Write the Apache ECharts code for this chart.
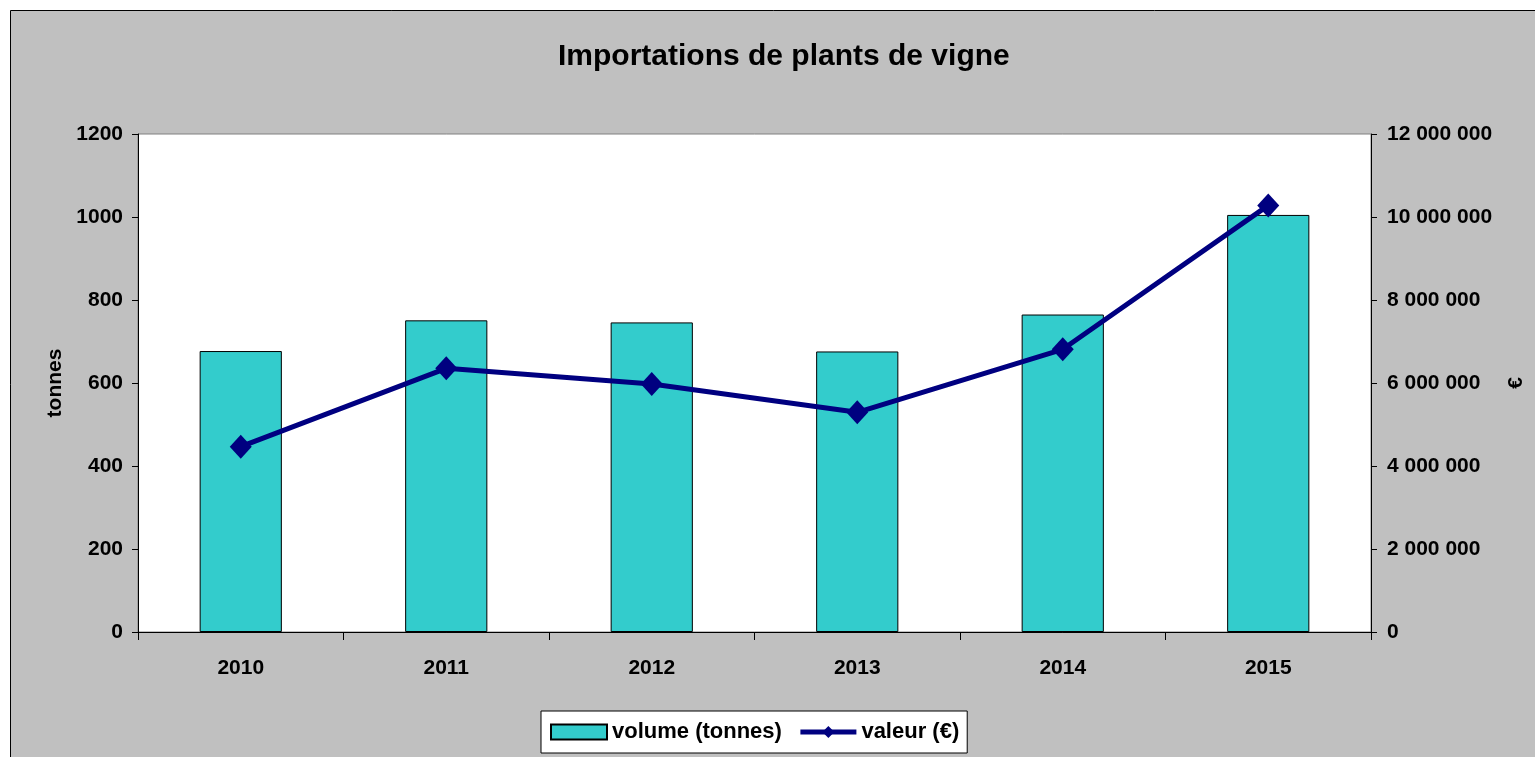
<!DOCTYPE html>
<html>
<head>
<meta charset="utf-8">
<script src="https://cdn.jsdelivr.net/npm/echarts@6/dist/echarts.min.js"></script>
<style>
  html, body { margin: 0; padding: 0; background: #fff; }
  #main { width: 1535px; height: 757px; }
</style>
</head>
<body>
<div id="main"></div>
<script>
// données
var years = ['2010', '2011', '2012', '2013', '2014', '2015'];
var volumeTonnes = [677, 751, 746, 676, 765, 1005];
var valeurEuros = [4465000, 6354000, 5976000, 5294000, 6812000, 10280000];
var leftTicks = [0, 1200, 200];          // min, max, interval
var rightTicks = [0, 12000000, 2000000]; // min, max, interval

var FONT = '"Liberation Sans", Arial, sans-serif';

// 12 000 000 style
function spaced(v) {
    return String(v).replace(/\B(?=(\d{3})+(?!\d))/g, ' ');
}

var myChart = echarts.init(document.getElementById('main'));

var option = {
    backgroundColor: '#fff',
    animation: false,
    textStyle: { fontFamily: FONT },
    graphic: [{
        type: 'rect',
        z: -10,
        silent: true,
        shape: { x: 10.5, y: 10.5, width: 1540, height: 760 },
        style: { fill: '#C0C0C0', stroke: '#000', lineWidth: 1 }
    }],
    title: {
        text: 'Importations de plants de vigne',
        left: 558,
        top: 42,
        padding: 0,
        textStyle: {
            fontFamily: FONT,
            fontWeight: 'bold',
            fontSize: 30,
            color: '#000'
        }
    },
    legend: {
        left: 541,
        top: 711,
        padding: [10, 8, 10, 9],
        itemGap: 16,
        itemWidth: 56,
        itemHeight: 15,
        backgroundColor: '#fff',
        borderColor: '#000',
        borderWidth: 1,
        borderRadius: 0,
        textStyle: {
            fontFamily: FONT,
            fontWeight: 'bold',
            fontSize: 22,
            color: '#000'
        },
        data: [
            { name: 'volume (tonnes)', icon: 'rect' },
            { name: 'valeur (€)', lineStyle: { width: 5, color: '#000080' } }
        ]
    },
    grid: {
        left: 138,
        right: 163,
        top: 134,
        bottom: 125,
        show: true,
        backgroundColor: '#fff',
        borderColor: '#808080',
        borderWidth: 1
    },
    xAxis: [{
        type: 'category',
        data: years,
        axisLine: { lineStyle: { color: '#000', width: 1 } },
        axisTick: { show: true, length: 8, lineStyle: { color: '#000' } },
        axisLabel: {
            margin: 26,
            fontFamily: FONT,
            fontWeight: 'bold',
            fontSize: 21,
            color: '#000'
        },
        splitLine: { show: false }
    }],
    yAxis: [{
        type: 'value',
        name: 'tonnes',
        nameLocation: 'middle',
        nameRotate: 90,
        nameGap: 61,
        nameTextStyle: {
            fontFamily: FONT,
            fontWeight: 'bold',
            fontSize: 21,
            color: '#000'
        },
        min: leftTicks[0],
        max: leftTicks[1],
        interval: leftTicks[2],
        axisLine: { show: true, lineStyle: { color: '#000', width: 1 } },
        axisTick: { show: true, length: 6, lineStyle: { color: '#000' } },
        axisLabel: {
            margin: 15,
            fontFamily: FONT,
            fontWeight: 'bold',
            fontSize: 21,
            color: '#000',
            formatter: function (v) { return String(v); }
        },
        splitLine: { show: false }
    }, {
        type: 'value',
        name: '€',
        nameLocation: 'middle',
        nameRotate: 90,
        nameGap: 135,
        nameTextStyle: {
            fontFamily: FONT,
            fontWeight: 'bold',
            fontSize: 21,
            color: '#000'
        },
        min: rightTicks[0],
        max: rightTicks[1],
        interval: rightTicks[2],
        position: 'right',
        axisLine: { show: true, lineStyle: { color: '#000', width: 1 } },
        axisTick: { show: true, length: 6, lineStyle: { color: '#000' } },
        axisLabel: {
            margin: 16,
            fontFamily: FONT,
            fontWeight: 'bold',
            fontSize: 21,
            color: '#000',
            formatter: spaced
        },
        splitLine: { show: false }
    }],
    series: [{
        name: 'volume (tonnes)',
        type: 'bar',
        yAxisIndex: 0,
        barWidth: '40%',
        itemStyle: {
            color: '#33CCCC',
            borderColor: '#000',
            borderWidth: 1
        },
        data: volumeTonnes
    }, {
        name: 'valeur (€)',
        type: 'line',
        yAxisIndex: 1,
        symbol: 'diamond',
        symbolSize: [22, 24],
        lineStyle: { color: '#000080', width: 5 },
        itemStyle: { color: '#000080' },
        data: valeurEuros
    }]
};

myChart.setOption(option);
</script>
</body>
</html>
